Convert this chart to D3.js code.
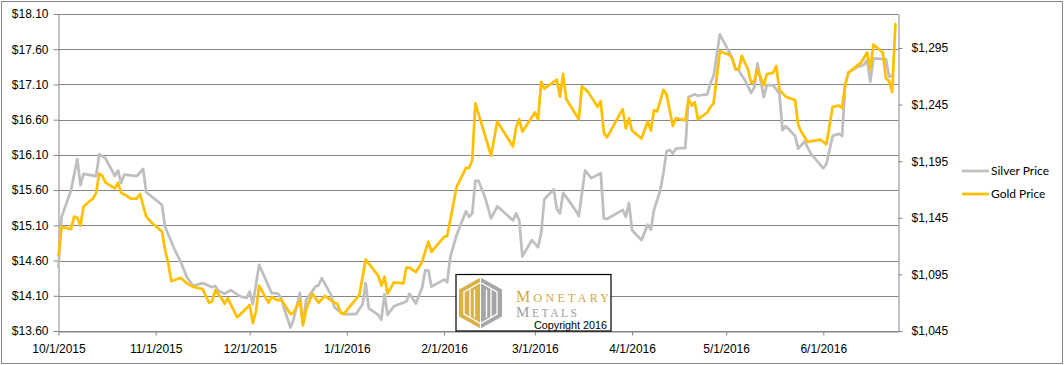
<!DOCTYPE html>
<html>
<head>
<meta charset="utf-8">
<script src="https://cdn.jsdelivr.net/npm/d3@7"></script>
<style>
  body { margin: 0; background: #fff; }
  svg { display: block; font-family: Lato, "Open Sans", sans-serif; }
  .axis text { font-size: 12px; fill: #000; }
  .axis path, .axis line { stroke: #868686; }
  .grid line { stroke: #868686; stroke-width: 1; }
  .series { fill: none; stroke-width: 2.75; stroke-linejoin: round; stroke-linecap: round; }
</style>
</head>
<body>
<div id="chart"></div>
<script>
var width = 1064,
    height = 365;

// silver, left axis
var silverDates = ["10/1/2015","10/2/2015","10/5/2015","10/7/2015","10/8/2015","10/9/2015","10/13/2015","10/14/2015","10/16/2015","10/19/2015","10/20/2015","10/21/2015","10/22/2015","10/26/2015","10/28/2015","10/29/2015",
  "11/3/2015","11/4/2015","11/7/2015","11/9/2015","11/11/2015","11/13/2015","11/16/2015","11/19/2015","11/20/2015","11/21/2015","11/23/2015","11/25/2015","11/28/2015","11/30/2015",
  "12/1/2015","12/2/2015","12/4/2015","12/7/2015","12/8/2015","12/10/2015","12/11/2015","12/12/2015","12/14/2015","12/15/2015","12/17/2015","12/18/2015","12/19/2015","12/22/2015","12/23/2015","12/24/2015","12/27/2015","12/28/2015","12/29/2015","12/31/2015",
  "1/4/2016","1/6/2016","1/7/2016","1/8/2016","1/11/2016","1/12/2016","1/13/2016","1/14/2016","1/16/2016","1/20/2016","1/21/2016","1/23/2016","1/25/2016","1/26/2016","1/27/2016","1/28/2016",
  "2/1/2016","2/2/2016","2/3/2016","2/5/2016","2/8/2016","2/9/2016","2/10/2016","2/11/2016","2/12/2016","2/14/2016","2/16/2016","2/18/2016","2/23/2016","2/24/2016","2/25/2016","2/26/2016","2/29/2016",
  "3/2/2016","3/3/2016","3/4/2016","3/7/2016","3/8/2016","3/9/2016","3/10/2016","3/12/2016","3/14/2016","3/15/2016","3/17/2016","3/19/2016","3/22/2016","3/23/2016","3/24/2016","3/29/2016","3/30/2016","3/31/2016",
  "4/1/2016","4/4/2016","4/6/2016","4/7/2016","4/8/2016","4/10/2016","4/11/2016","4/12/2016","4/13/2016","4/14/2016","4/15/2016","4/18/2016","4/19/2016","4/21/2016","4/22/2016","4/25/2016","4/26/2016","4/27/2016","4/29/2016",
  "5/2/2016","5/3/2016","5/4/2016","5/5/2016","5/7/2016","5/9/2016","5/10/2016","5/11/2016","5/13/2016","5/14/2016","5/16/2016","5/18/2016","5/19/2016","5/20/2016","5/23/2016","5/24/2016","5/26/2016","5/28/2016",
  "6/1/2016","6/2/2016","6/4/2016","6/6/2016","6/7/2016","6/8/2016","6/9/2016","6/12/2016","6/14/2016","6/15/2016","6/16/2016","6/17/2016","6/21/2016","6/22/2016","6/23/2016"];
var silverPrices = [14.51,15.22,15.60,16.04,15.67,15.83,15.80,16.11,16.05,15.80,15.88,15.70,15.82,15.80,15.90,15.57,
  15.39,15.08,14.76,14.58,14.36,14.24,14.28,14.22,14.24,14.17,14.13,14.18,14.09,14.07,
  14.16,13.98,14.54,14.24,14.14,14.13,14.07,13.92,13.65,13.76,14.14,13.69,14.04,14.23,14.25,14.35,14.11,13.94,13.90,13.84,
  13.84,13.98,14.28,13.92,13.83,13.76,14.12,13.83,13.95,14.02,14.13,13.99,14.21,14.46,14.46,14.23,
  14.33,14.29,14.65,14.96,15.30,15.22,15.27,15.73,15.73,15.51,15.20,15.37,15.17,15.27,15.17,14.66,14.89,
  14.79,14.99,15.47,15.61,15.33,15.27,15.56,15.44,15.31,15.23,15.88,15.77,15.84,15.20,15.19,15.32,15.22,15.42,
  15.03,14.89,15.11,15.04,15.32,15.60,15.84,16.15,16.17,16.12,16.19,16.20,16.92,16.96,16.94,16.96,17.12,17.22,17.81,
  17.56,17.47,17.33,17.30,17.16,16.98,17.06,17.40,16.92,17.09,17.09,16.97,16.45,16.51,16.37,16.19,16.29,16.12,
  15.91,15.97,16.37,16.40,16.37,17.09,17.27,17.35,17.38,17.45,17.14,17.47,17.46,17.21,17.23];

// gold, right axis
var goldDates = ["10/1/2015","10/2/2015","10/5/2015","10/6/2015","10/7/2015","10/8/2015","10/9/2015","10/12/2015","10/13/2015","10/14/2015","10/15/2015","10/16/2015","10/19/2015","10/20/2015","10/21/2015","10/23/2015","10/24/2015","10/26/2015","10/27/2015","10/29/2015","10/31/2015",
  "11/3/2015","11/4/2015","11/5/2015","11/6/2015","11/9/2015","11/11/2015","11/13/2015","11/16/2015","11/18/2015","11/19/2015","11/20/2015","11/22/2015","11/23/2015","11/24/2015","11/27/2015",
  "12/1/2015","12/2/2015","12/3/2015","12/4/2015","12/7/2015","12/8/2015","12/10/2015","12/11/2015","12/14/2015","12/15/2015","12/17/2015","12/18/2015","12/19/2015","12/21/2015","12/23/2015","12/25/2015","12/28/2015","12/29/2015","12/30/2015","12/31/2015",
  "1/5/2016","1/7/2016","1/11/2016","1/12/2016","1/13/2016","1/14/2016","1/16/2016","1/19/2016","1/20/2016","1/21/2016","1/23/2016","1/25/2016","1/27/2016","1/28/2016",
  "2/1/2016","2/2/2016","2/5/2016","2/8/2016","2/9/2016","2/10/2016","2/11/2016","2/16/2016","2/18/2016","2/23/2016","2/24/2016","2/25/2016","2/26/2016",
  "3/1/2016","3/2/2016","3/3/2016","3/4/2016","3/8/2016","3/9/2016","3/10/2016","3/11/2016","3/15/2016","3/16/2016","3/18/2016","3/21/2016","3/22/2016","3/23/2016","3/24/2016","3/29/2016","3/30/2016","3/31/2016",
  "4/1/2016","4/4/2016","4/6/2016","4/7/2016","4/8/2016","4/9/2016","4/11/2016","4/12/2016","4/13/2016","4/14/2016","4/15/2016","4/18/2016","4/19/2016","4/20/2016","4/21/2016","4/22/2016","4/25/2016","4/26/2016","4/27/2016","4/29/2016",
  "5/2/2016","5/3/2016","5/4/2016","5/5/2016","5/6/2016","5/8/2016","5/9/2016","5/10/2016","5/11/2016","5/13/2016","5/14/2016","5/16/2016","5/17/2016","5/18/2016","5/20/2016","5/23/2016","5/24/2016","5/25/2016","5/27/2016","5/31/2016",
  "6/2/2016","6/4/2016","6/6/2016","6/7/2016","6/8/2016","6/9/2016","6/13/2016","6/15/2016","6/16/2016","6/17/2016","6/20/2016","6/21/2016","6/22/2016","6/23/2016","6/24/2016"];
var goldPrices = [1112,1137,1135,1146,1145,1138,1155,1162,1167,1184,1182,1176,1171,1176,1167,1164,1162,1162,1166,1146,1140,
  1133,1117,1105,1089,1092,1087,1084,1082,1070,1071,1081,1074,1069,1074,1057,
  1068,1052,1062,1085,1070,1075,1072,1073,1060,1061,1072,1050,1064,1078,1070,1076,1070,1069,1061,1060,
  1077,1108,1094,1085,1093,1078,1088,1087,1101,1101,1097,1106,1124,1115,
  1128,1129,1172,1189,1189,1196,1246,1200,1230,1208,1225,1232,1221,
  1238,1232,1265,1259,1267,1252,1272,1250,1232,1261,1256,1243,1248,1220,1216,1241,1224,1233,
  1222,1215,1230,1222,1240,1239,1258,1254,1240,1226,1233,1231,1250,1244,1247,1232,1238,1243,1246,1292,
  1289,1285,1276,1276,1288,1276,1264,1266,1276,1262,1272,1273,1279,1258,1252,1249,1227,1221,1212,1214,
  1210,1243,1244,1242,1263,1273,1282,1291,1276,1298,1291,1268,1266,1256,1316];

var monthTicks = ["10/1/2015","11/1/2015","12/1/2015","1/1/2016","2/1/2016","3/1/2016","4/1/2016","5/1/2016","6/1/2016"];
var silverTicks = [13.6, 14.1, 14.6, 15.1, 15.6, 16.1, 16.6, 17.1, 17.6, 18.1];
var goldTicks = [1045, 1095, 1145, 1195, 1245, 1295];
var seriesNames = ["Silver Price", "Gold Price"];
var seriesColors = ["#bfbfbf", "#ffc000"];

var parse = d3.timeParse("%m/%d/%Y");
var plot = {left: 58.5, right: 898.5, top: 14, bottom: 331};

var x = d3.scaleTime()
  .domain([parse("10/1/2015"), parse("6/25/2016")])
  .range([plot.left, plot.right]);
var ySilver = d3.scaleLinear().domain([13.6, 18.1]).range([plot.bottom, plot.top]);
var yGold = d3.scaleLinear().domain([1045, 1325]).range([plot.bottom, plot.top]);

var svg = d3.select("#chart").append("svg")
  .attr("width", width)
  .attr("height", height);

// outer frame
svg.append("rect")
  .attr("x", 1.5).attr("y", 1.5)
  .attr("width", width - 3).attr("height", height - 3)
  .attr("fill", "#fff")
  .attr("stroke", "#868686");

// gridlines off the silver axis
svg.append("g").attr("class", "grid")
  .selectAll("line")
  .data(silverTicks)
  .enter().append("line")
  .attr("x1", plot.left).attr("x2", plot.right)
  .attr("y1", function(d) { return Math.round(ySilver(d)) + 0.5; })
  .attr("y2", function(d) { return Math.round(ySilver(d)) + 0.5; });

svg.append("g").attr("class", "axis")
  .attr("transform", "translate(" + plot.left + ",0)")
  .call(d3.axisLeft(ySilver).tickValues(silverTicks).tickSize(5).tickSizeOuter(0).tickPadding(5)
    .tickFormat(function(d) { return "$" + d.toFixed(2); }));

svg.append("g").attr("class", "axis")
  .attr("transform", "translate(" + plot.right + ",0)")
  .call(d3.axisRight(yGold).tickValues(goldTicks).tickSize(4).tickSizeOuter(0).tickPadding(9)
    .tickFormat(function(d) { return "$" + d3.format(",")(d); }));

svg.append("g").attr("class", "axis")
  .attr("transform", "translate(0," + (plot.bottom + 0.5) + ")")
  .call(d3.axisBottom(x).tickValues(monthTicks.map(parse)).tickSize(4).tickSizeOuter(0).tickPadding(9)
    .tickFormat(d3.timeFormat("%-m/%-d/%Y")));

// lines
var silverLine = d3.line()
  .x(function(d, i) { return x(parse(silverDates[i])); })
  .y(function(d) { return ySilver(d); });
var goldLine = d3.line()
  .x(function(d, i) { return x(parse(goldDates[i])); })
  .y(function(d) { return yGold(d); });

svg.append("path").datum(silverPrices)
  .attr("class", "series")
  .attr("stroke", seriesColors[0])
  .attr("d", silverLine);
svg.append("path").datum(goldPrices)
  .attr("class", "series")
  .attr("stroke", seriesColors[1])
  .attr("d", goldLine);

// legend
var legend = svg.append("g").attr("transform", "translate(962,171)");
seriesNames.forEach(function(name, i) {
  var row = legend.append("g").attr("transform", "translate(0," + (i * 23) + ")");
  row.append("line")
    .attr("x1", 0).attr("x2", 27)
    .attr("stroke", seriesColors[i])
    .attr("stroke-width", 2.75);
  row.append("text")
    .attr("x", 29)
    .attr("dy", "0.35em")
    .style("font-size", "12px")
    .text(name);
});

// watermark logo box
var logo = svg.append("g").attr("transform", "translate(456,274.5)");
logo.append("rect")
  .attr("width", 155).attr("height", 56.5)
  .attr("fill", "#fff").attr("stroke", "#000").attr("stroke-width", 1.2);

var hex = logo.append("g").attr("transform", "translate(3,3)");
var hw = 43, hh = 51;
hex.append("path")
  .attr("d", "M" + hw / 2 + ",0 L0,12 L0,39 L" + hw / 2 + "," + hh + "Z")
  .attr("fill", "#d8b14a");
hex.append("path")
  .attr("d", "M" + hw / 2 + ",0 L" + hw + ",12 L" + hw + ",39 L" + hw / 2 + "," + hh + "Z")
  .attr("fill", "#a6a6a6");
hex.append("path")
  .attr("d", "M" + hw / 2 + ",5 L5,14.5 L5,36.5 L" + hw / 2 + ",46 L" + (hw - 5) + ",36.5 L" + (hw - 5) + ",14.5Z")
  .attr("fill", "none").attr("stroke", "#fff").attr("stroke-width", 1.3);
[11, 15.5, 27.5, 32].forEach(function(px) {
  hex.append("line")
    .attr("x1", px).attr("x2", px)
    .attr("y1", 12).attr("y2", 40)
    .attr("stroke", "#fff").attr("stroke-width", 1.3);
});
hex.append("line")
  .attr("x1", hw / 2).attr("x2", hw / 2)
  .attr("y1", 0).attr("y2", hh)
  .attr("stroke", "#fff").attr("stroke-width", 1);

var brand = logo.append("text")
  .attr("x", 60).attr("y", 27.5)
  .attr("fill", "#d4a63a")
  .style("font-family", "'Liberation Serif', 'DejaVu Serif', serif")
  .attr("textLength", 93).attr("lengthAdjust", "spacing");
brand.append("tspan").style("font-size", "16px").text("M");
brand.append("tspan").style("font-size", "12px").text("ONETARY");

var metals = logo.append("text")
  .attr("x", 60).attr("y", 42)
  .attr("fill", "#a0a0a0")
  .style("font-family", "'Liberation Serif', 'DejaVu Serif', serif")
  .attr("textLength", 61).attr("lengthAdjust", "spacing");
metals.append("tspan").style("font-size", "15px").text("M");
metals.append("tspan").style("font-size", "11.5px").text("ETALS");

logo.append("text")
  .attr("x", 78).attr("y", 54)
  .style("font-family", "'Liberation Sans', Arial, sans-serif")
  .style("font-size", "10.5px")
  .attr("fill", "#000")
  .attr("textLength", 73).attr("lengthAdjust", "spacingAndGlyphs")
  .text("Copyright 2016");
</script>
</body>
</html>
